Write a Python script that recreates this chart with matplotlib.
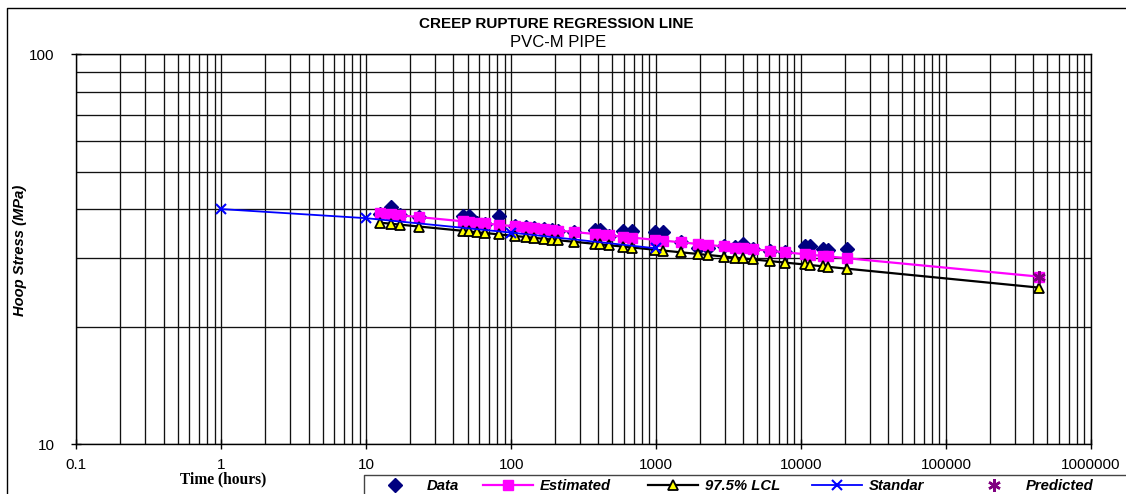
import matplotlib
matplotlib.use('Agg')
import matplotlib.pyplot as plt
from matplotlib.lines import Line2D
from matplotlib.ticker import FixedLocator, FixedFormatter, LogLocator, NullFormatter

# ---------------- data ----------------
time_h = [12.4, 14.8, 17.1, 23.2, 46.7, 51.1, 58.3, 65.9, 82.2, 107, 126, 144,
          169, 190, 211, 272, 378, 409, 470, 587, 683, 990, 1117, 1480, 1950,
          2262, 2930, 3490, 3963, 4624, 6150, 7720, 10600, 11610, 14060, 15350,
          20760]
data_mpa = [39.0, 40.5, 38.8, 38.3, 38.5, 38.5, 37.0, 36.8, 38.4, 36.2, 36.0,
            35.8, 35.6, 35.5, 35.3, 35.0, 35.4, 35.4, 34.3, 35.3, 35.3, 35.0,
            35.1, 33.0, 31.8, 31.8, 32.2, 32.0, 32.6, 31.6, 31.3, 31.1, 32.3,
            32.3, 31.7, 31.4, 31.6]
est_time = time_h + [438000]
est_mpa = [39.09, 38.86, 38.66, 38.24, 37.30, 37.17, 37.00, 36.84, 36.55, 36.20,
           35.99, 35.82, 35.62, 35.47, 35.33, 35.02, 34.61, 34.51, 34.34, 34.07,
           33.88, 33.44, 33.29, 32.96, 32.63, 32.46, 32.16, 31.96, 31.82, 31.65,
           31.33, 31.07, 30.72, 30.63, 30.41, 30.32, 30.00, 26.91]
lcl_mpa = [37.01, 36.78, 36.58, 36.17, 35.26, 35.14, 34.97, 34.82, 34.53, 34.20,
           34.00, 33.83, 33.64, 33.49, 33.36, 33.05, 32.66, 32.56, 32.40, 32.14,
           31.96, 31.53, 31.39, 31.07, 30.76, 30.59, 30.30, 30.11, 29.97, 29.80,
           29.49, 29.24, 28.91, 28.81, 28.61, 28.52, 28.20, 25.22]
std_time = [1, 10, 100, 1000]
std_mpa = [40.1, 38.0, 34.9, 31.8]
pred_time = [438000]
pred_mpa = [26.9]

x_ticks = [0.1, 1, 10, 100, 1000, 10000, 100000, 1000000]
x_labels = ['0.1', '1', '10', '100', '1000', '10000', '100000', '1000000']
y_ticks = [10, 100]
y_labels = ['10', '100']

series_labels = ['Data', 'Estimated', '97.5% LCL', 'Standar', 'Predicted']

# ---------------- figure ----------------
W, H = 1126, 494
SANS = 'Liberation Sans'
fig = plt.figure(figsize=(W / 100, H / 100), dpi=100)
fig.patch.set_facecolor('white')

L, R, T, B = 76.3, 1091.0, 54.3, 444.3
ax = fig.add_axes([L / W, 1 - B / H, (R - L) / W, (B - T) / H])
ax.set_xscale('log')
ax.set_yscale('log')
ax.set_xlim(0.1, 1e6)
ax.set_ylim(10, 100)

ax.xaxis.set_major_locator(FixedLocator(x_ticks))
ax.xaxis.set_major_formatter(FixedFormatter(x_labels))
ax.yaxis.set_major_locator(FixedLocator(y_ticks))
ax.yaxis.set_major_formatter(FixedFormatter(y_labels))
ax.xaxis.set_minor_locator(LogLocator(base=10, subs=range(2, 10), numticks=20))
ax.yaxis.set_minor_locator(LogLocator(base=10, subs=range(2, 10), numticks=20))
ax.xaxis.set_minor_formatter(NullFormatter())
ax.yaxis.set_minor_formatter(NullFormatter())

ax.set_axisbelow(True)
ax.grid(which='both', color='#111111', linewidth=0.95)
ax.tick_params(which='major', direction='inout', length=7.5, width=1.0, color='black',
               labelsize=11)
ax.tick_params(which='minor', length=0)
ax.tick_params(axis='x', which='major', pad=6.0)
ax.tick_params(axis='y', which='major', pad=12.0)
for lab in ax.get_xticklabels() + ax.get_yticklabels():
    lab.set_fontfamily(SANS)
for s in ax.spines.values():
    s.set_color('black')
    s.set_linewidth(1.0)

# ---------------- series ----------------
h_data, = ax.plot(time_h, data_mpa, linestyle='none', marker='D', markersize=7,
                  color='#000080', markeredgecolor='#000080', zorder=3)
h_est, = ax.plot(est_time, est_mpa, color='#FF00FF', linewidth=1.6, marker='s',
                 markersize=7.5, markeredgecolor='#FF00FF', zorder=4)
h_lcl, = ax.plot(est_time, lcl_mpa, color='black', linewidth=1.6, marker='^',
                 markersize=7.5, markerfacecolor='#FFFF00', markeredgecolor='black',
                 markeredgewidth=1.3, zorder=5)
h_std, = ax.plot(std_time, std_mpa, color='#0000FF', linewidth=1.3, marker='x',
                 markersize=7, markeredgewidth=1.5, zorder=6)
h_pred, = ax.plot(pred_time, pred_mpa, linestyle='none', marker=(6, 2, 0),
                  markersize=9, color='#800080', markeredgewidth=1.8, zorder=7)

# ---------------- texts ----------------
fig.text(556 / W, 1 - 28 / H, 'CREEP RUPTURE REGRESSION LINE', ha='center',
         va='baseline', fontsize=11, fontweight='bold', family=SANS)
fig.text(558 / W, 1 - 47 / H, 'PVC-M PIPE', ha='center', va='baseline',
         fontsize=12, family=SANS)
fig.text(20 / W, 1 - 250 / H, 'Hoop Stress (MPa)', rotation=90, ha='center',
         va='center', fontsize=10.6, fontweight='bold', fontstyle='italic', family=SANS)
fig.text(223 / W, 1 - 479 / H, 'Time (hours)', ha='center', va='center',
         fontsize=11.2, fontweight='bold', family='Liberation Serif')

# ---------------- legend ----------------
leg_fs = 10.7
leg_y = 486
handles = [h_data, h_est, h_lcl, h_std, h_pred]
x_starts = [370, 483, 648, 812, 969]
for h, lab, x0 in zip(handles, series_labels, x_starts):
    fig.legend([h], [lab], loc='center left',
               bbox_to_anchor=(x0 / W, 1 - leg_y / H),
               bbox_transform=fig.transFigure, frameon=False, borderpad=0,
               borderaxespad=0, handlelength=3.36, handletextpad=0.47,
               numpoints=1,
               prop={'family': SANS, 'size': leg_fs, 'weight': 'bold',
                     'style': 'italic'})

# legend frame (extends past the image edge)
fig.add_artist(Line2D([364.3 / W, 364.3 / W, 1.0], [0.0, 1 - 475 / H, 1 - 475 / H],
                      transform=fig.transFigure, color='#444444', linewidth=1.0))
# chart-area border (extends past the image edge)
fig.add_artist(Line2D([7.3 / W, 7.3 / W, 1.0], [0.0, 1 - 8.3 / H, 1 - 8.3 / H],
                      transform=fig.transFigure, color='black', linewidth=1.0))

fig.savefig('out.png', dpi=100, facecolor='white')
